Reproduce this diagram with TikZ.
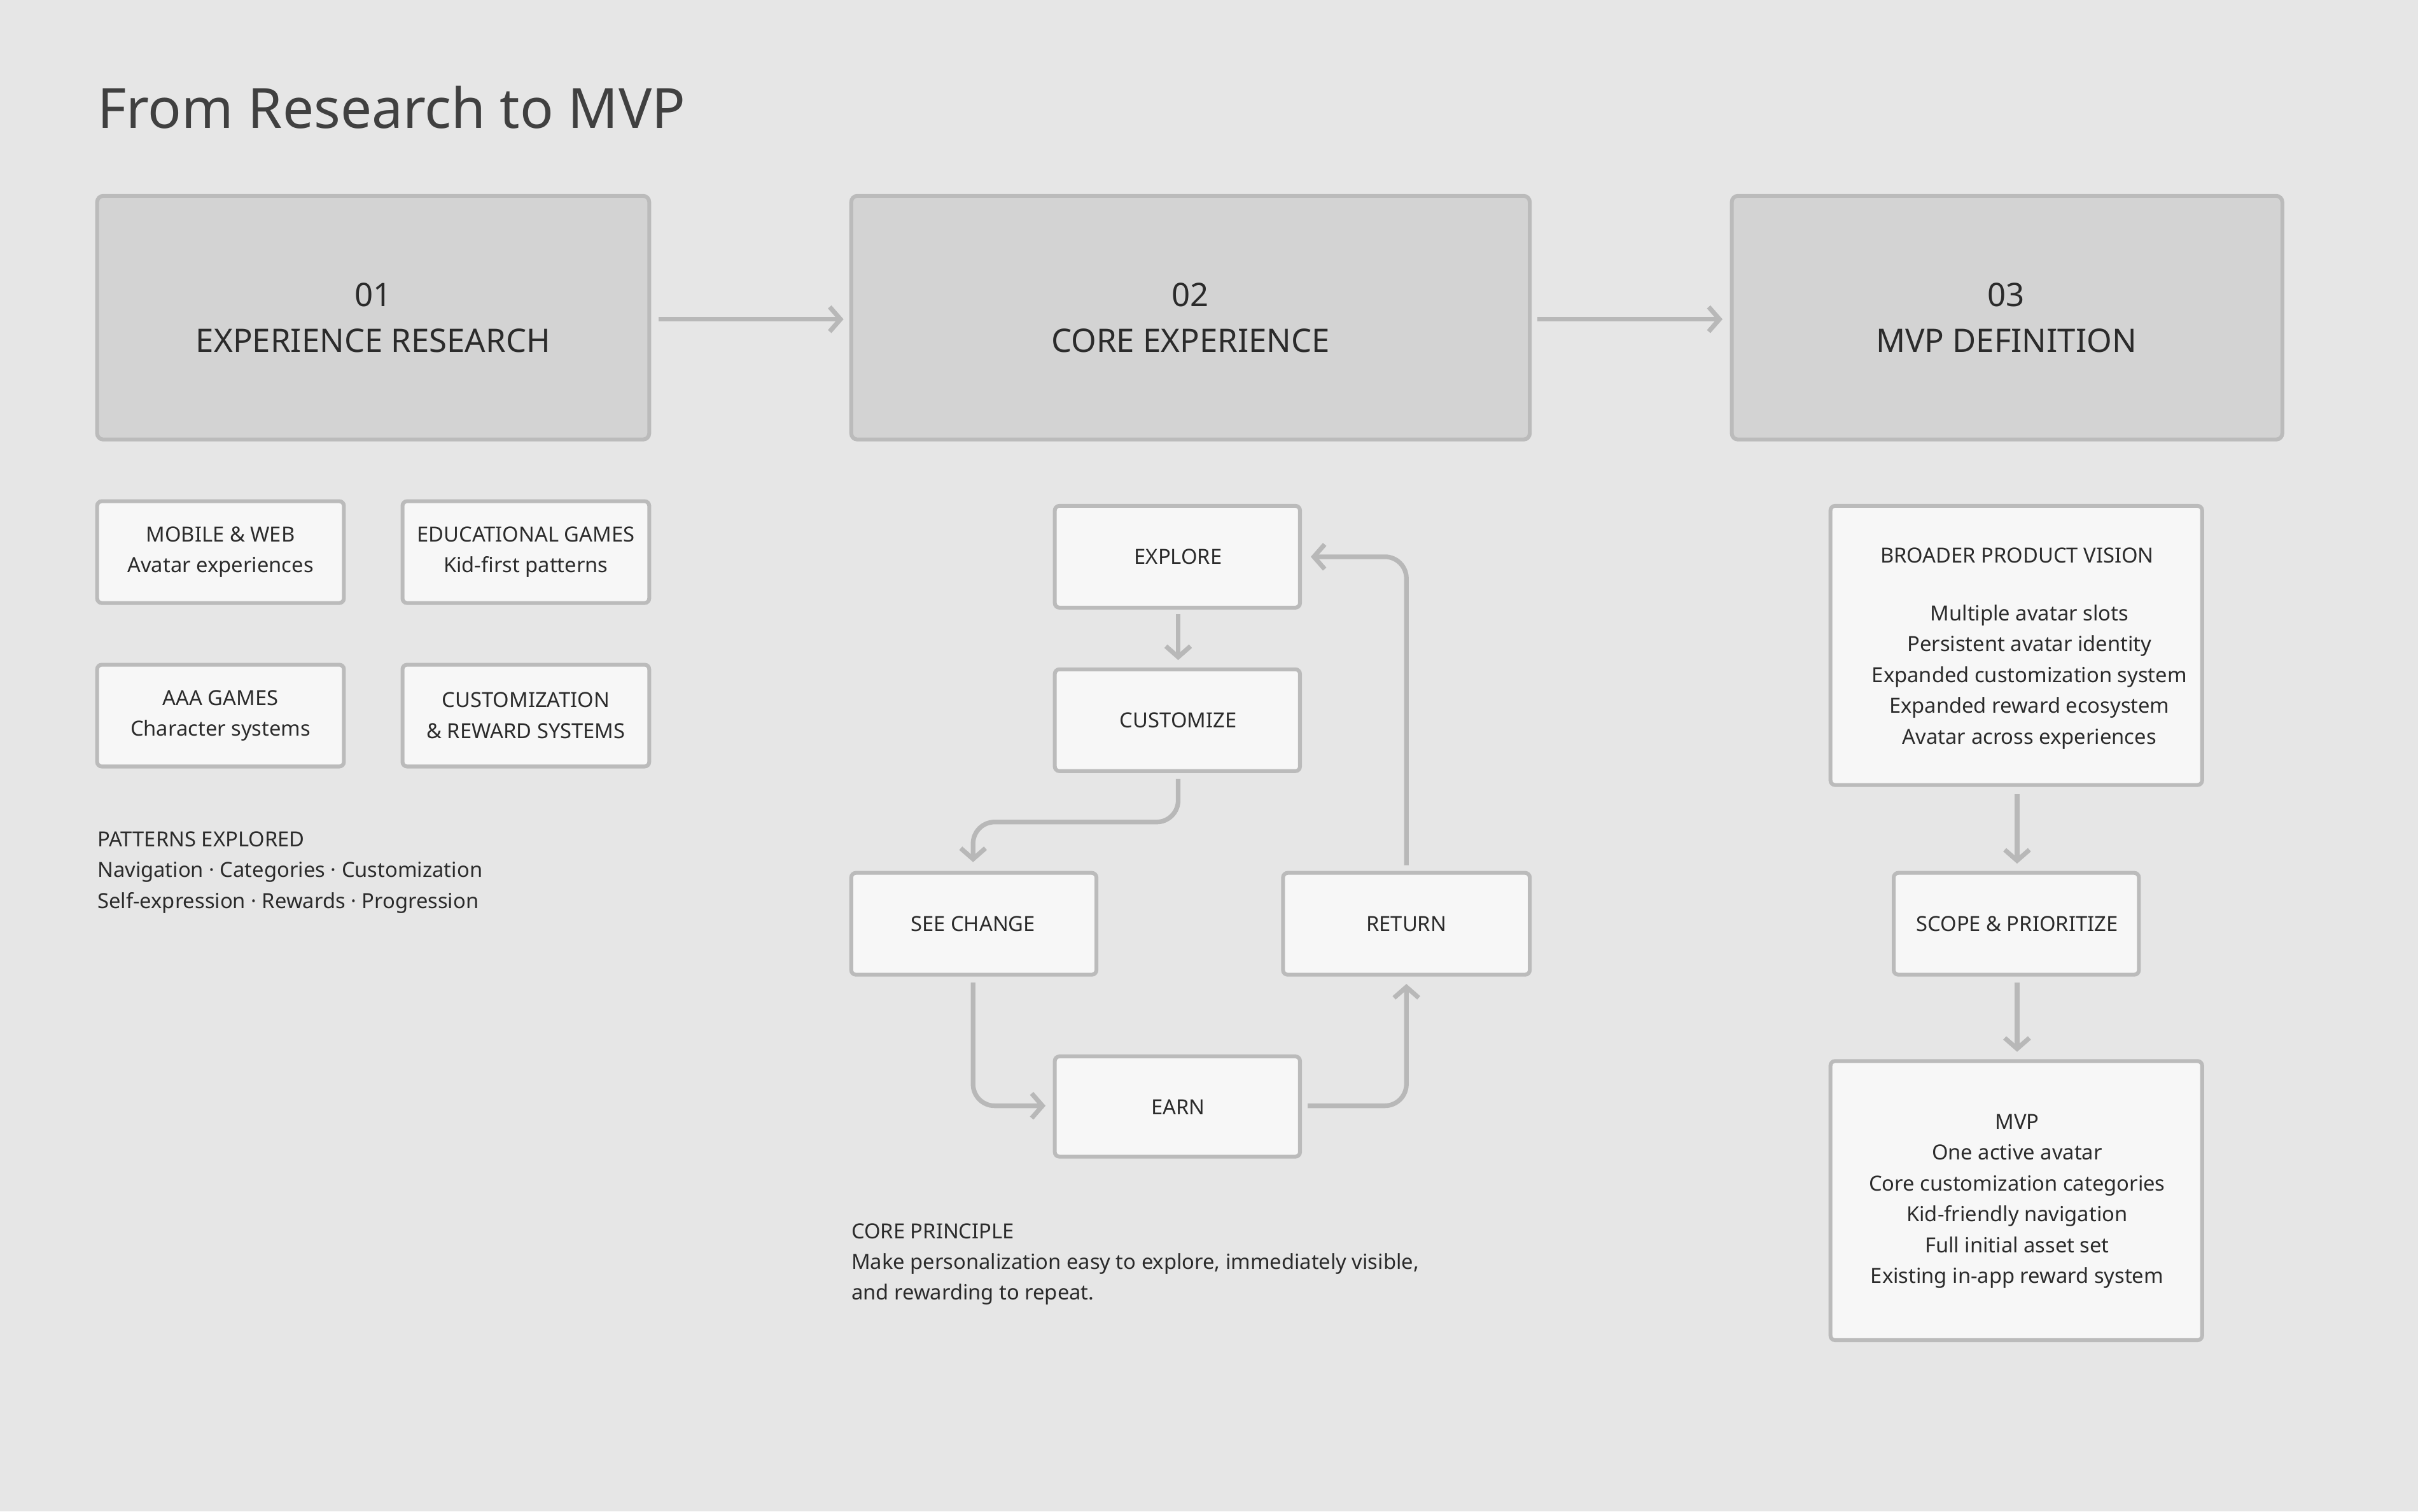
\documentclass[tikz,border=0pt]{standalone}
\usepackage{fontspec}
\setmainfont{Noto Sans}
\usetikzlibrary{arrows.meta}
\definecolor{bg}{HTML}{E6E6E6}
\definecolor{bigfill}{HTML}{D3D3D3}
\definecolor{edge}{HTML}{BBBBBB}
\definecolor{smallfill}{HTML}{F7F7F7}
\definecolor{ink}{HTML}{2B2B2B}
\definecolor{arr}{HTML}{B8B8B8}
\begin{document}
\begin{tikzpicture}[x=1pt,y=-1pt,
  big/.style={draw=edge,fill=bigfill,line width=2.5pt,rounded corners=4pt},
  small/.style={draw=edge,fill=smallfill,line width=2.5pt,rounded corners=3pt},
  bt/.style={font=\fontsize{21}{30}\selectfont\bfseries,text=ink,align=center},
  st/.style={font=\fontsize{13.5}{20}\selectfont,text=ink,align=center},
  lt/.style={font=\fontsize{13.5}{20}\selectfont,text=ink,align=left,anchor=north west,inner sep=0pt},
  ar/.style={draw=arr,line width=3pt,-{Straight Barb[length=7pt,width=16pt,line width=3pt]},rounded corners=14pt}]
\fill[bg] (0,0) rectangle (1568,980);
\useasboundingbox (0,0) rectangle (1568,980);
\node[anchor=base west,inner sep=0pt,font=\fontsize{36}{40}\selectfont,text=ink!90] (title) at (63,83) {From Research to MVP};
% big boxes
\draw[big] (63,127) rectangle (421,285); \node[bt] (b1) at (242,206) {01\\EXPERIENCE RESEARCH};
\draw[big] (552,127) rectangle (992,285); \node[bt] (b2) at (772,206) {02\\CORE EXPERIENCE};
\draw[big] (1123,127) rectangle (1480,285); \node[bt] (b3) at (1301,206) {03\\MVP DEFINITION};
\coordinate (a1s) at (427,207); \coordinate (a1e) at (547,207);
\coordinate (a2s) at (997,207); \coordinate (a2e) at (1117,207);
\draw[ar] (a1s) -- (a1e); \draw[ar] (a2s) -- (a2e);
% left small boxes
\draw[small] (63,325) rectangle (223,391); \node[st] (s1) at (143,358) {MOBILE \& WEB\\Avatar experiences};
\draw[small] (261,325) rectangle (421,391); \node[st] (s2) at (341,358) {EDUCATIONAL GAMES\\Kid-first patterns};
\draw[small] (63,431) rectangle (223,497); \node[st] (s3) at (143,464) {AAA GAMES\\Character systems};
\draw[small] (261,431) rectangle (421,497); \node[st] (s4) at (341,464) {CUSTOMIZATION\\\& REWARD SYSTEMS};
\node[lt] (pat) at (63,539) {PATTERNS EXPLORED\\Navigation · Categories · Customization\\Self-expression · Rewards · Progression};
% middle loop
\draw[small] (684,328) rectangle (843,394); \node[st] (ex) at (764,361) {EXPLORE};
\draw[small] (684,434) rectangle (843,500); \node[st] (cu) at (764,467) {CUSTOMIZE};
\draw[small] (552,566) rectangle (711,632); \node[st] (sc) at (631,599) {SEE CHANGE};
\draw[small] (832,566) rectangle (992,632); \node[st] (re) at (912,599) {RETURN};
\draw[small] (684,685) rectangle (843,750); \node[st] (ea) at (764,718) {EARN};
\coordinate (p1) at (764,398); \coordinate (p2) at (764,428);
\draw[ar] (p1) -- (p2);
\coordinate (c1) at (764,505); \coordinate (c2) at (764,533); \coordinate (c3) at (631,533); \coordinate (c4) at (631,559);
\draw[ar] (c1) -- (c2) -- (c3) -- (c4);
\coordinate (d1) at (631,637); \coordinate (d2) at (631,717); \coordinate (d3) at (678,717);
\draw[ar] (d1) -- (d2) -- (d3);
\coordinate (e1) at (848,717); \coordinate (e2) at (912,717); \coordinate (e3) at (912,638);
\draw[ar] (e1) -- (e2) -- (e3);
\coordinate (f1) at (912,561); \coordinate (f2) at (912,361); \coordinate (f3) at (850,361);
\draw[ar] (f1) -- (f2) -- (f3);
\node[lt] (cp) at (552,793) {CORE PRINCIPLE\\Make personalization easy to explore, immediately visible,\\and rewarding to repeat.};
% right column
\draw[small] (1187,328) rectangle (1428,509);
\node[st] (bv1) at (1308,360) {BROADER PRODUCT VISION};
\node[st] (bv2) at (1316,439) {Multiple avatar slots\\Persistent avatar identity\\Expanded customization system\\Expanded reward ecosystem\\Avatar across experiences};
\coordinate (g1) at (1308,515); \coordinate (g2) at (1308,560);
\draw[ar] (g1) -- (g2);
\draw[small] (1228,566) rectangle (1387,632); \node[st] (sp) at (1308,599) {SCOPE \& PRIORITIZE};
\coordinate (h1) at (1308,637); \coordinate (h2) at (1308,682);
\draw[ar] (h1) -- (h2);
\draw[small] (1187,688) rectangle (1428,869);
\node[st] (mvp) at (1308,779) {MVP\\One active avatar\\Core customization categories\\Kid-friendly navigation\\Full initial asset set\\Existing in-app reward system};
\end{tikzpicture}
\end{document}
